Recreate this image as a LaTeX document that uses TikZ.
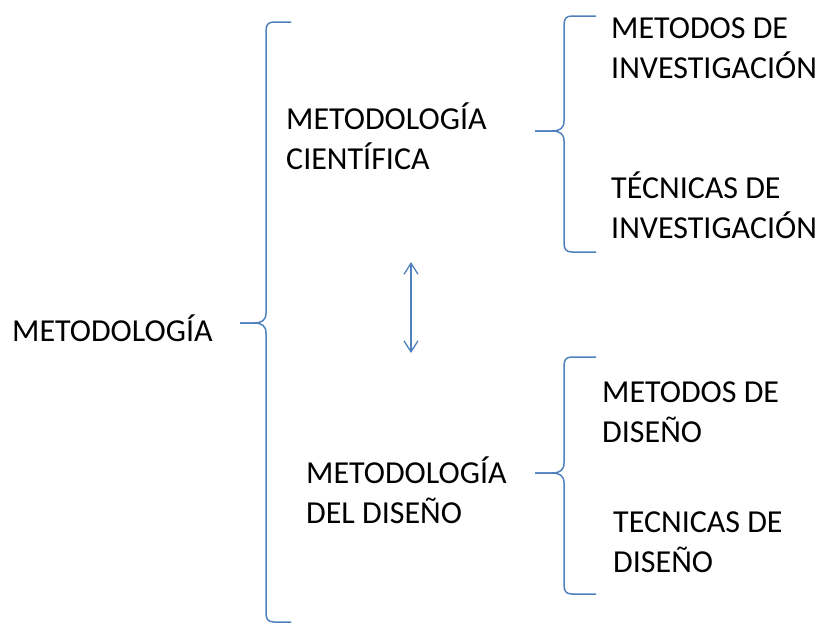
\documentclass[tikz,border=0pt]{standalone}
\usepackage{fontspec}
\setmainfont{Carlito}
\usetikzlibrary{arrows.meta}
\definecolor{braceblue}{RGB}{79,129,189}

% curly brace opening to the right: vertical x, top y, tip y, bottom y, tip x, end x
\newcommand\curlybrace[6]{%
  \draw[bracestroke] (#6,#2) -- ({#1+8},#2)
    .. controls ({#1+2},#2) and (#1,{#2+3}) .. (#1,{#2+9})
    -- (#1,{#3-10})
    .. controls (#1,{#3-3}) and ({#1-4},#3) .. ({#1-12},#3)
    -- (#5,#3);
  \draw[bracestroke] (#5,#3) -- ({#1-12},#3)
    .. controls ({#1-4},#3) and (#1,{#3+3}) .. (#1,{#3+10})
    -- (#1,{#4-9})
    .. controls (#1,{#4-3}) and ({#1+2},#4) .. ({#1+8},#4)
    -- (#6,#4);
}

\tikzset{
  bracestroke/.style={draw=braceblue, line width=1.5pt, line join=round},
  label/.style={anchor=base west, inner sep=0pt, align=left,
    font=\fontsize{32}{39.5}\selectfont, text=black},
  linkarrow/.style={draw=braceblue, line width=1.3pt,
    {Straight Barb[length=11pt,width=14pt,line width=1.3pt]}-{Straight Barb[length=11pt,width=14pt,line width=1.3pt]}}
}

\begin{document}
\begin{tikzpicture}[x=1pt,y=-1pt]
  \useasboundingbox (0,0) rectangle (820,625);

  % texts (multi-line nodes are placed by the baseline of their last line)
  \node[label] (metodologia) at (12,341) {METODOLOGÍA};
  \node[label] (cientifica) at (286,169) {METODOLOGÍA\\CIENTÍFICA};
  \node[label] (metinv) at (611,78) {METODOS DE\\INVESTIGACIÓN};
  \node[label] (tecinv) at (611,238) {TÉCNICAS DE\\INVESTIGACIÓN};
  \node[label] (disenio) at (306,523) {METODOLOGÍA\\DEL DISEÑO};
  \node[label] (metdis) at (602,442) {METODOS DE\\DISEÑO};
  \node[label] (tecdis) at (613,572) {TECNICAS DE\\DISEÑO};

  % braces
  \curlybrace{266}{22}{323}{622}{240}{291}
  \curlybrace{564}{16}{131}{252}{535}{596}
  \curlybrace{564}{357}{473}{594}{535}{596}

  % two-way link between the two methodologies
  \coordinate (linktop) at (411,262);
  \coordinate (linkbot) at (411,353);
  \draw[linkarrow] (linktop) -- (linkbot);
\end{tikzpicture}
\end{document}
